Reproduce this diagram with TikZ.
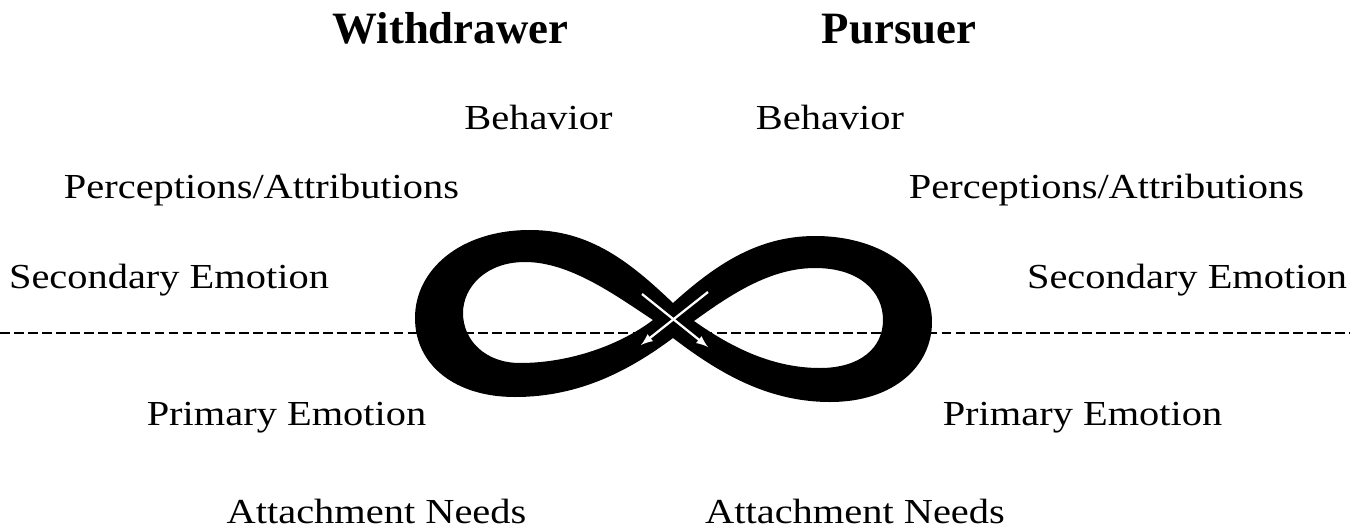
\documentclass[tikz,border=0pt]{standalone}
\usepackage{fontspec}
\setmainfont[FakeStretch=1.15]{Liberation Serif}
\newfontfamily\headfont{Liberation Serif}
\usepackage{tikz}
\tikzset{>=latex}
\tikzset{lbl/.style={anchor=base, inner sep=0pt, font=\fontsize{20}{24}\selectfont}}
\tikzset{head/.style={anchor=base, inner sep=0pt, font=\headfont\bfseries\fontsize{25.5}{30}\selectfont}}
\tikzset{divider/.style={dashed, dash pattern=on 5.5pt off 2.5pt, line width=1.1pt}}
\tikzset{crossarrow/.style={->, white, line width=1.3pt}}

\begin{document}
\begin{tikzpicture}[x=0.02cm, y=-0.02cm]
    \useasboundingbox (0,0) rectangle (1357,531);

    \node[head] (WD) at (450.5,43) {Withdrawer};
    \node[head] (PU) at (899,43) {Pursuer};

    \node[lbl] (BL) at (538.5,129) {Behavior};
    \node[lbl] (BR) at (830,129) {Behavior};
    \node[lbl] (PL) at (261.5,198) {Perceptions/Attributions};
    \node[lbl] (PR) at (1106.5,198) {Perceptions/Attributions};
    \node[lbl] (SL) at (169,288) {Secondary Emotion};
    \node[lbl] (SR) at (1187,288) {Secondary Emotion};
    \node[lbl] (EL) at (286.5,425) {Primary Emotion};
    \node[lbl] (ER) at (1082.5,425) {Primary Emotion};
    \node[lbl] (AL) at (376.5,523) {Attachment Needs};
    \node[lbl] (AR) at (855,523) {Attachment Needs};

    \coordinate (DL) at (0,333);
    \coordinate (DR) at (1350,333);
    \draw[divider] (DL) -- (DR);

    % the loop
    \fill[black, even odd rule]
        (673,303) .. controls (630,262) and (590,230) .. (530,230)
        .. controls (460,230) and (415,270) .. (415,318)
        .. controls (415,365) and (455,397) .. (515,397)
        .. controls (580,397) and (630,370) .. (673,338)
        .. controls (715,370) and (765,402) .. (830,402)
        .. controls (895,402) and (932,365) .. (932,322)
        .. controls (932,275) and (885,236) .. (815,236)
        .. controls (755,236) and (712,268) .. (673,303) -- cycle
        (653,320) .. controls (615,295) and (570,262) .. (525,262)
        .. controls (485,262) and (463,288) .. (463,313)
        .. controls (463,340) and (485,363) .. (520,363)
        .. controls (570,363) and (620,345) .. (653,320) -- cycle
        (694,321) .. controls (730,295) and (770,268) .. (815,268)
        .. controls (860,268) and (883,292) .. (883,320)
        .. controls (883,348) and (860,368) .. (820,368)
        .. controls (770,368) and (728,345) .. (694,321) -- cycle;

    \coordinate (X1) at (642,294);
    \coordinate (X2) at (708,347);
    \coordinate (Y1) at (708,292);
    \coordinate (Y2) at (641,345);
    \draw[crossarrow] (X1) -- (X2);
    \draw[crossarrow] (Y1) -- (Y2);

\end{tikzpicture}
\end{document}
